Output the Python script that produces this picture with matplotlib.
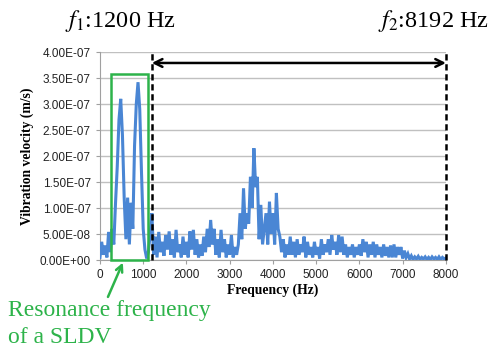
import matplotlib
matplotlib.use('Agg')
import matplotlib.pyplot as plt
import numpy as np
from matplotlib.patches import Rectangle
from matplotlib.ticker import FuncFormatter

# spectrum amplitude in units of 1e-8 m/s, one value every 40 Hz from 0 to 8000 Hz
vel_e8 = [
    0.5, 3.5, 1.0, 2.8, 0.5, 5.4, 1.5, 6.0, 3.0, 11.0,
    18.0, 27.0, 31.0, 24.0, 12.0, 4.0, 12.0, 3.0, 11.0, 6.0,
    22.0, 30.0, 34.2, 29.0, 17.0, 6.0, 2.0, 0.3, 1.5, 5.0,
    9.0, 1.0, 4.5, 0.5, 5.4, 1.5, 3.5, 0.8, 4.8, 2.0,
    5.5, 1.0, 4.0, 0.5, 5.8, 1.5, 3.0, 0.5, 4.5, 1.0,
    3.5, 0.5, 5.5, 2.0, 5.8, 1.0, 4.0, 0.5, 3.0, 0.8,
    4.5, 1.5, 6.0, 2.5, 7.7, 3.0, 6.0, 1.0, 4.0, 0.5,
    5.8, 1.5, 4.0, 0.5, 3.0, 1.0, 4.8, 0.5, 2.5, 1.0,
    3.0, 9.0, 4.0, 13.8, 6.0, 9.0, 7.0, 16.0, 10.0, 21.5,
    14.0, 16.0, 4.0, 10.6, 3.0, 6.0, 9.0, 3.0, 11.2, 5.0,
    9.0, 3.0, 12.9, 6.0, 4.5, 1.5, 4.0, 0.5, 3.0, 1.0,
    4.5, 1.0, 3.5, 0.5, 4.0, 1.0, 3.0, 1.5, 4.5, 0.5,
    3.5, 1.0, 2.5, 0.5, 3.5, 1.0, 2.5, 0.3, 4.0, 1.0,
    3.0, 1.5, 4.0, 1.0, 4.8, 2.0, 3.5, 1.0, 4.8, 1.5,
    4.5, 1.0, 3.0, 0.5, 2.5, 1.0, 3.0, 0.5, 2.5, 1.0,
    3.0, 0.8, 4.0, 1.5, 3.5, 0.5, 3.0, 1.0, 3.5, 0.5,
    3.0, 1.0, 2.5, 0.5, 3.0, 0.8, 2.5, 0.5, 2.8, 0.5,
    3.0, 0.5, 2.5, 1.0, 2.5, 0.3, 1.8, 0.5, 1.2, 0.2,
    0.8, 0.1, 0.6, 0.2, 0.7, 0.1, 0.5, 0.2, 0.6, 0.1,
    0.5, 0.1, 0.6, 0.2, 0.5, 0.1, 0.6, 0.1, 0.5, 0.2,
    0.4,
]
freq_step = 40

f1 = 1200
f2_edge = 8000
box_lo, box_hi, box_top = 254, 1108, 3.58e-7
arrow_y = 3.79e-7

GREEN = '#2db34a'
BLUE = '#4a86d4'


def sci_fmt(v, pos):
    return '%.2E' % v


def main():
    plt.rcParams['mathtext.fontset'] = 'stix'
    freq = np.arange(len(vel_e8)) * freq_step
    vel = np.array(vel_e8) * 1e-8

    fig = plt.figure(figsize=(4.9, 3.47), dpi=100)
    ax = fig.add_axes([0.204, 0.2507, 0.706, 0.5993])

    ax.plot(freq, vel, color=BLUE, lw=2.2, solid_joinstyle='miter', zorder=3)

    ax.set_xlim(0, 8000)
    ax.set_ylim(0, 4e-7)
    ax.set_xticks(np.arange(0, 8001, 1000))
    ax.set_yticks(np.arange(0, 4.01e-7, 0.5e-7))
    ax.yaxis.set_major_formatter(FuncFormatter(sci_fmt))
    ax.grid(axis='y', color='#c0c0c0', lw=1)
    ax.set_axisbelow(True)
    for s in ('top', 'right'):
        ax.spines[s].set_visible(False)
    for s in ('left', 'bottom'):
        ax.spines[s].set_color('#a0a0a0')
    ax.tick_params(axis='both', colors='#a0a0a0', labelcolor='#222222',
                   labelsize=8.5, length=3, width=0.8)
    for lab in ax.get_xticklabels() + ax.get_yticklabels():
        lab.set_family('Liberation Sans')

    ax.set_xlabel('Frequency (Hz)', family='Liberation Serif',
                  fontweight='bold', fontsize=9.8, labelpad=2)
    ax.set_ylabel('Vibration velocity (m/s)', family='Liberation Serif',
                  fontweight='bold', fontsize=9.8, labelpad=4)

    # f1 / f2 band markers
    ax.plot([f1, f1], [0, 4e-7], color='black', lw=1.8, ls=(0, (2.5, 1.5)),
            clip_on=False, zorder=4)
    ax.plot([f2_edge, f2_edge], [0, 4e-7], color='black', lw=1.8,
            ls=(0, (2.5, 1.5)), clip_on=False, zorder=4)
    ax.annotate('', xy=(f2_edge, arrow_y), xytext=(f1, arrow_y),
                arrowprops=dict(arrowstyle='<->', color='black', lw=1.8,
                                mutation_scale=14, shrinkA=0, shrinkB=0))

    # resonance box
    ax.add_patch(Rectangle((box_lo, 0), box_hi - box_lo, box_top, fill=False,
                           edgecolor=GREEN, lw=1.8, clip_on=False, zorder=5))
    ax.annotate('', xy=(530, -0.05e-7), xytext=(185, -0.71e-7),
                annotation_clip=False,
                arrowprops=dict(arrowstyle='->', color=GREEN, lw=1.8,
                                mutation_scale=12, shrinkA=0, shrinkB=0))

    fig.text(0.016, 0.088, 'Resonance frequency', color=GREEN,
             family='Liberation Serif', fontsize=17, va='baseline')
    fig.text(0.016, 0.012, 'of a SLDV', color=GREEN,
             family='Liberation Serif', fontsize=17, va='baseline')

    fig.text(0.133, 0.922, r'$f_1$:1200 Hz', family='Liberation Serif',
             fontsize=17.5, va='baseline')
    fig.text(0.771, 0.922, r'$f_2$:8192 Hz', family='Liberation Serif',
             fontsize=17.5, va='baseline')

    fig.savefig('out.png', dpi=100)


if __name__ == '__main__':
    main()
